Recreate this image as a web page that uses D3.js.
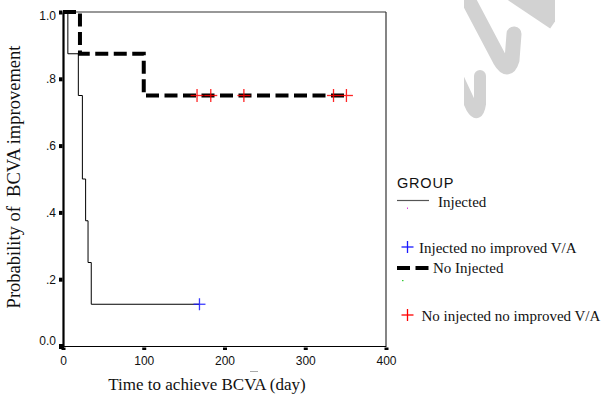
<!DOCTYPE html>
<html><head><meta charset="utf-8">
<script src="https://cdn.jsdelivr.net/npm/d3@7"></script>
<style>body{margin:0;background:#fff}svg{display:block}</style>
</head><body>
<svg id="c" width="606" height="396"></svg>
<script>
// ---- data ----
const injTimes   = [0, 6, 19, 24, 28, 31, 35, 169];
const injSurv    = [1, 0.875, 0.75, 0.5, 0.375, 0.25, 0.125, 0.125];
const injCensor  = [169];
const injCensorS = [0.125];
const noTimes    = [0, 21, 100, 351];
const noSurv     = [1, 0.875, 0.75, 0.75];
const noCensor   = [166, 183, 224, 335, 351];
const noCensorS  = [0.75, 0.75, 0.75, 0.75, 0.75];
const xTicks = [0, 100, 200, 300, 400];
const yTicks = [0, 0.2, 0.4, 0.6, 0.8, 1.0];
const yTickLabels = ["0.0", ".2", ".4", ".6", ".8", "1.0"];
const legendItems = ["Injected", "Injected no improved V/A", "No Injected", "No injected no improved V/A"];

const svg = d3.select("#c");
const L = 63, R = 386, T = 12, B = 346;
const x = d3.scaleLinear().domain([0, 400]).range([L, R]);
const y = d3.scaleLinear().domain([0, 1]).range([B, T]);

// watermark (decorative)
svg.append("clipPath").attr("id", "wmc").append("rect").attr("x", 464).attr("y", 0).attr("width", 91).attr("height", 200);
const wm = svg.append("g").attr("fill", "none").attr("stroke", "#d2d2d2").attr("stroke-linecap", "round")
  .attr("clip-path", "url(#wmc)");
wm.append("path").attr("d", "M462,-12 L500,60 Q508,74 512,60 L514,34").attr("stroke-width", 15);
wm.append("path").attr("d", "M458,78 L472,108 Q478,118 480,104 L480,76").attr("stroke-width", 12);
wm.append("path").attr("d", "M515,-12 L558,17").attr("stroke-width", 28).attr("stroke-linecap", "butt");

// frame
svg.append("line").attr("x1", L).attr("x2", R).attr("y1", T).attr("y2", T).attr("stroke", "#333").attr("stroke-width", 1.2);
svg.append("line").attr("x1", R).attr("x2", R).attr("y1", T).attr("y2", B).attr("stroke", "#333").attr("stroke-width", 1.2);

// axes
const xAxis = d3.axisBottom(x).tickValues(xTicks).tickSize(0).tickPadding(10).tickFormat(d3.format("d"));
const gx = svg.append("g").attr("transform", `translate(0,${B})`).call(xAxis);
gx.select(".domain").attr("stroke", "#000").attr("stroke-width", 1.2);
gx.selectAll("text").attr("font-family", "Liberation Sans, Arial, sans-serif").attr("font-size", 12).attr("fill", "#111");
gx.selectAll(".tick").append("rect").attr("x", -2).attr("y", 1.5).attr("width", 4).attr("height", 2.5).attr("fill", "#000");

const yAxis = d3.axisLeft(y).tickValues(yTicks).tickSize(0).tickPadding(7)
  .tickFormat((d, i) => yTickLabels[i]);
const gy = svg.append("g").attr("transform", `translate(${L},0)`).call(yAxis);
gy.select(".domain").attr("stroke", "#000").attr("stroke-width", 2.2);
gy.selectAll("text").attr("font-family", "Liberation Sans, Arial, sans-serif").attr("font-size", 12).attr("fill", "#111")
  .attr("dy", d => d === 1 ? "0.65em" : d === 0 ? "-0.1em" : "0.32em");
gy.selectAll(".tick").append("rect").attr("x", -4).attr("y", -2).attr("width", 3.5).attr("height", 4).attr("fill", "#000");
svg.append("rect").attr("x", L - 4).attr("y", B - 2).attr("width", 5).attr("height", 5).attr("fill", "#000");

// curves
const step = d3.line().x(d => x(d[0])).y(d => y(d[1])).curve(d3.curveStepAfter);
svg.append("path").datum(injTimes.map((t, i) => [t, injSurv[i]]))
  .attr("d", step).attr("fill", "none").attr("stroke", "#000").attr("stroke-width", 1);
svg.append("path").datum(noTimes.map((t, i) => [t, noSurv[i]]))
  .attr("d", step).attr("fill", "none").attr("stroke", "#000").attr("stroke-width", 4)
  .attr("stroke-dasharray", "13,5.5");

function plus(g, cx, cy, s, color) {
  g.append("line").attr("x1", cx - s).attr("x2", cx + s).attr("y1", cy).attr("y2", cy).attr("stroke", color).attr("stroke-width", 1.3);
  g.append("line").attr("x1", cx).attr("x2", cx).attr("y1", cy - s).attr("y2", cy + s).attr("stroke", color).attr("stroke-width", 1.3);
}
const cg = svg.append("g").attr("opacity", 0.85);
injCensor.forEach((t, i) => plus(cg, x(t), y(injCensorS[i]), 6, "#1a1aff"));
noCensor.forEach((t, i) => plus(cg, x(t), y(noCensorS[i]), 6.5, "#ff0000"));

// axis titles
svg.append("text").attr("x", 207).attr("y", 390).attr("text-anchor", "middle")
  .attr("font-family", "Liberation Serif, Times New Roman, serif").attr("font-size", 17).attr("fill", "#111")
  .text("Time to achieve BCVA (day)");
svg.append("line").attr("x1", 250).attr("x2", 258).attr("y1", 371.5).attr("y2", 371.5).attr("stroke", "#aaa").attr("stroke-width", 1);
svg.append("text").attr("transform", "translate(20,177) rotate(-90)").attr("text-anchor", "middle")
  .attr("font-family", "Liberation Serif, Times New Roman, serif").attr("font-size", 18.5).attr("fill", "#111")
  .attr("xml:space", "preserve").style("white-space", "pre")
  .text("Probability of  BCVA improvement");

// legend
const lg = svg.append("g");
const serif = "Liberation Serif, Times New Roman, serif";
lg.append("text").attr("x", 397).attr("y", 188).attr("font-family", "Liberation Sans, Arial, sans-serif")
  .attr("font-size", 14.5).attr("letter-spacing", 0.8).attr("fill", "#111").text("GROUP");
lg.append("line").attr("x1", 397).attr("x2", 429).attr("y1", 200.5).attr("y2", 200.5).attr("stroke", "#555").attr("stroke-width", 1.2);
lg.append("text").attr("x", 438).attr("y", 207).attr("font-family", serif).attr("font-size", 15).attr("fill", "#111").text(legendItems[0]);
lg.append("rect").attr("x", 407).attr("y", 207.5).attr("width", 1).attr("height", 1.5).attr("fill", "#e040e0");
plus(lg, 407.5, 247, 6, "#1a1aff");
lg.append("text").attr("x", 419).attr("y", 253).attr("font-family", serif).attr("font-size", 15).attr("fill", "#111").text(legendItems[1]);
lg.append("line").attr("x1", 397).attr("x2", 431).attr("y1", 268).attr("y2", 268).attr("stroke", "#000").attr("stroke-width", 4)
  .attr("stroke-dasharray", "13,5.5");
lg.append("text").attr("x", 433).attr("y", 273).attr("font-family", serif).attr("font-size", 15).attr("fill", "#111").text(legendItems[2]);
lg.append("rect").attr("x", 402).attr("y", 280).attr("width", 1.5).attr("height", 1.2).attr("fill", "#33cc33");
plus(lg, 407.5, 315, 6, "#ff0000");
lg.append("text").attr("x", 421.5).attr("y", 320.5).attr("font-family", serif).attr("font-size", 15).attr("fill", "#111").text(legendItems[3]);
</script>
</body></html>
